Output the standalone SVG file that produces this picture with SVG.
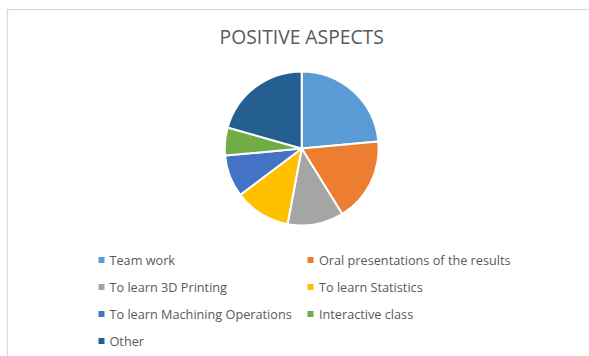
<svg xmlns="http://www.w3.org/2000/svg" width="589" height="356" viewBox="0 0 589 356">
<style>
.bg{fill:#ffffff}
.frame{fill:none;stroke:#d9d9d9;stroke-width:1.2}
.title{font-family:"Open Sans","Liberation Sans",sans-serif;font-size:19.3px;fill:#595959;text-anchor:middle}
.lg{font-family:"Open Sans","Liberation Sans",sans-serif;font-size:12.7px;fill:#595959}
.sl{stroke:#ffffff;stroke-width:2;stroke-linejoin:round}
</style>
<rect class="bg" x="0" y="0" width="589" height="356"/>
<rect class="frame" x="7.5" y="9.5" width="600" height="360"/>
<g id="title"><text class="title" x="301.7" y="44.3">POSITIVE ASPECTS</text></g>
<g id="pie">
<path id="s-team" class="sl" fill="#5B9BD5" d="M301.7,148.5 L301.7,71.5 A77,77 0 0 1 378.37,141.40 Z"/>
<path id="s-oral" class="sl" fill="#ED7D31" d="M301.7,148.5 L378.37,141.40 A77,77 0 0 1 342.24,213.97 Z"/>
<path id="s-3d" class="sl" fill="#A5A5A5" d="M301.7,148.5 L342.24,213.97 A77,77 0 0 1 287.55,224.19 Z"/>
<path id="s-stat" class="sl" fill="#FFC000" d="M301.7,148.5 L287.55,224.19 A77,77 0 0 1 240.25,194.90 Z"/>
<path id="s-mach" class="sl" fill="#4472C4" d="M301.7,148.5 L240.25,194.90 A77,77 0 0 1 225.03,155.60 Z"/>
<path id="s-inter" class="sl" fill="#70AD47" d="M301.7,148.5 L225.03,155.60 A77,77 0 0 1 227.64,127.43 Z"/>
<path id="s-other" class="sl" fill="#255E91" d="M301.7,148.5 L227.64,127.43 A77,77 0 0 1 301.7,71.5 Z"/>
</g>
<g id="legend">
<g id="lg-team"><rect x="98.5" y="257" width="6" height="6" fill="#5B9BD5"/><text class="lg" x="109.5" y="264.5">Team work</text></g>
<g id="lg-oral"><rect x="307.5" y="257" width="6" height="6" fill="#ED7D31"/><text class="lg" x="319" y="264.5">Oral presentations of the results</text></g>
<g id="lg-3d"><rect x="98.5" y="284" width="6" height="6" fill="#A5A5A5"/><text class="lg" x="109.5" y="291.5">To learn 3D Printing</text></g>
<g id="lg-stat"><rect x="307.5" y="284" width="6" height="6" fill="#FFC000"/><text class="lg" x="319" y="291.5">To learn Statistics</text></g>
<g id="lg-mach"><rect x="98.5" y="311" width="6" height="6" fill="#4472C4"/><text class="lg" x="109.5" y="318.5">To learn Machining Operations</text></g>
<g id="lg-inter"><rect x="307.5" y="311" width="6" height="6" fill="#70AD47"/><text class="lg" x="319" y="318.5">Interactive class</text></g>
<g id="lg-other"><rect x="98.5" y="338" width="6" height="6" fill="#255E91"/><text class="lg" x="109.5" y="345.5">Other</text></g>
</g>
</svg>
